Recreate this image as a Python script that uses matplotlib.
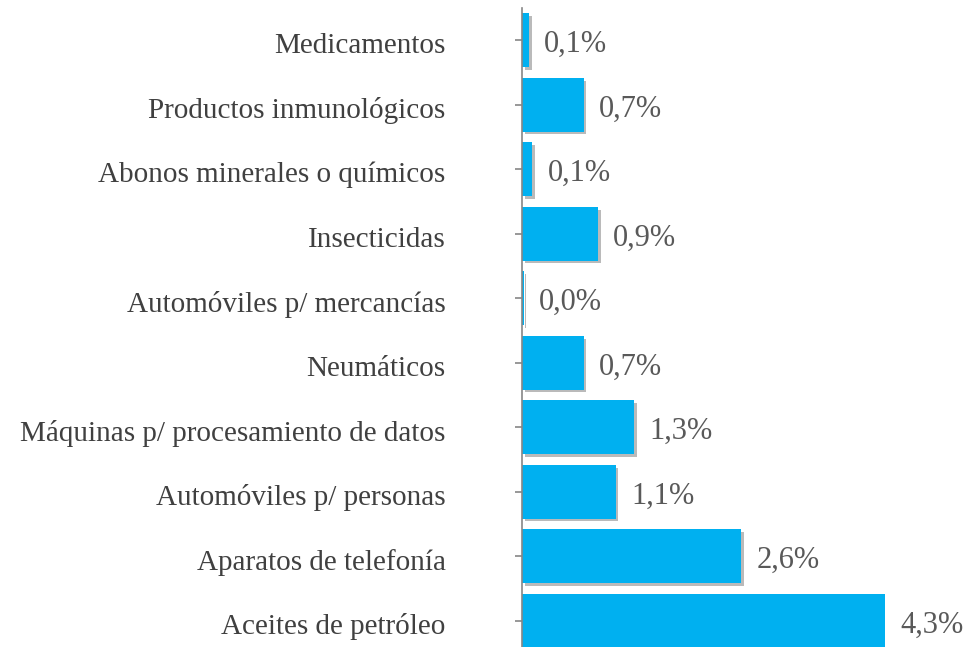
import matplotlib.pyplot as plt
import matplotlib.patheffects as pe
from matplotlib.transforms import ScaledTranslation

# categories, top to bottom
categories = ['Medicamentos', 'Productos inmunológicos', 'Abonos minerales o químicos',
              'Insecticidas', 'Automóviles p/ mercancías', 'Neumáticos',
              'Máquinas p/ procesamiento de datos', 'Automóviles p/ personas',
              'Aparatos de telefonía', 'Aceites de petróleo']
# share in percent
values = [0.08, 0.73, 0.12, 0.9, 0.02, 0.73, 1.33, 1.11, 2.6, 4.3]

plt.rcParams['font.family'] = ['Liberation Serif', 'DejaVu Serif']

fig = plt.figure(figsize=(9.69, 6.47), dpi=100)
ax = fig.add_axes([522/969, -6/647, 363/969, 645/647])

ypos = list(range(len(categories)))
bars = ax.barh(ypos, values, height=0.83, color='#00B0F0')
for b in bars:
    b.set_path_effects([pe.SimplePatchShadow(offset=(2, -2), shadow_rgbFace='#666666', alpha=0.45),
                        pe.Normal()])

for y, v in zip(ypos, values):
    ax.annotate(f'{v:.1f}%'.replace('.', ','), (v, y), xytext=(11, -3),
                textcoords='offset points', va='center', ha='left',
                fontsize=22, color='#595959', annotation_clip=False)

ax.set_yticks(ypos)
ax.set_yticklabels(categories, fontsize=21, color='#404040')
ax.set_ylim(len(categories) - 0.5, -0.5)
ax.set_xlim(0, 4.3)
ax.set_xticks([])

for s in ['top', 'right', 'bottom']:
    ax.spines[s].set_visible(False)
ax.spines['left'].set_color('#868686')
ax.spines['left'].set_linewidth(1.2)
ax.tick_params(axis='y', direction='out', length=5, width=1.2, color='#868686', pad=50)

# nudge category labels slightly down like the original
shift = ScaledTranslation(0, -3/100, fig.dpi_scale_trans)
for lbl in ax.get_yticklabels():
    lbl.set_transform(lbl.get_transform() + shift)

fig.savefig('out.png', dpi=100)
